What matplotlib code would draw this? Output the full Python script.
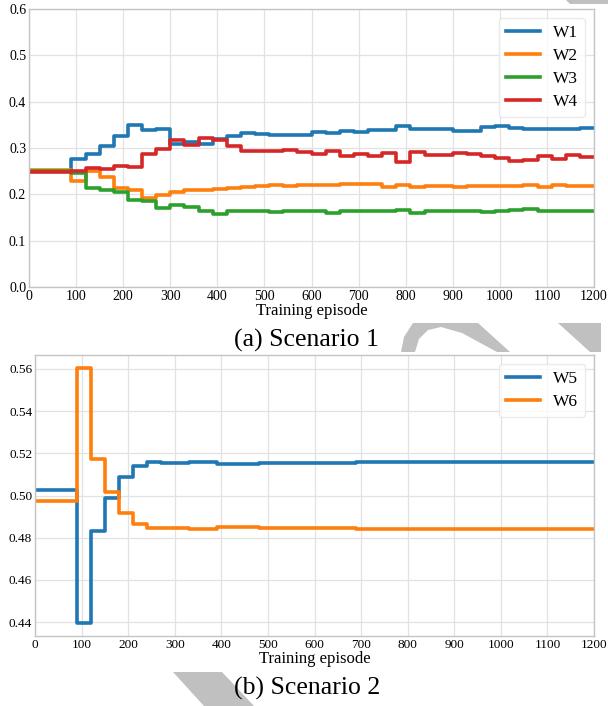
import numpy as np
import matplotlib
matplotlib.use("Agg")
import matplotlib.pyplot as plt
from matplotlib.patches import Polygon

# =========================================================
# data (one value per 30-episode block, 0..1200)
# =========================================================
block = 30
episode_max = 1200

w1 = [0.250, 0.250, 0.250, 0.277, 0.286, 0.304, 0.325, 0.350, 0.338, 0.340,
      0.309, 0.312, 0.309, 0.319, 0.325, 0.332, 0.331, 0.329, 0.328, 0.327,
      0.334, 0.332, 0.336, 0.335, 0.338, 0.338, 0.347, 0.340, 0.341, 0.341,
      0.337, 0.337, 0.345, 0.347, 0.344, 0.342, 0.342, 0.341, 0.340, 0.344]
w2 = [0.252, 0.252, 0.252, 0.228, 0.250, 0.237, 0.214, 0.209, 0.192, 0.199,
      0.204, 0.210, 0.210, 0.212, 0.214, 0.215, 0.217, 0.221, 0.219, 0.221,
      0.220, 0.220, 0.223, 0.222, 0.222, 0.216, 0.221, 0.215, 0.217, 0.217,
      0.216, 0.217, 0.217, 0.217, 0.219, 0.220, 0.216, 0.221, 0.219, 0.218]
w3 = [0.250, 0.250, 0.250, 0.247, 0.213, 0.210, 0.204, 0.188, 0.186, 0.170,
      0.176, 0.173, 0.163, 0.158, 0.163, 0.165, 0.165, 0.162, 0.164, 0.165,
      0.164, 0.160, 0.164, 0.163, 0.165, 0.163, 0.167, 0.160, 0.163, 0.163,
      0.164, 0.165, 0.161, 0.163, 0.167, 0.168, 0.164, 0.165, 0.164, 0.164]
w4 = [0.249, 0.249, 0.249, 0.250, 0.256, 0.255, 0.262, 0.258, 0.288, 0.298,
      0.317, 0.307, 0.322, 0.317, 0.304, 0.293, 0.293, 0.294, 0.296, 0.292,
      0.288, 0.293, 0.282, 0.288, 0.282, 0.289, 0.269, 0.291, 0.284, 0.284,
      0.289, 0.286, 0.282, 0.278, 0.273, 0.275, 0.283, 0.277, 0.285, 0.280]

w5 = [0.5025, 0.5025, 0.5025, 0.4395, 0.4832, 0.4989, 0.5088, 0.5141, 0.5157, 0.5155,
      0.5155, 0.5160, 0.5160, 0.5151, 0.5151, 0.5151, 0.5154, 0.5154, 0.5154, 0.5154,
      0.5154, 0.5154, 0.5154, 0.5157, 0.5157, 0.5157, 0.5157, 0.5157, 0.5157, 0.5157,
      0.5157, 0.5157, 0.5157, 0.5160, 0.5160, 0.5160, 0.5160, 0.5160, 0.5160, 0.5160]
w6 = [0.4975, 0.4975, 0.4975, 0.5605, 0.5173, 0.5016, 0.4918, 0.4863, 0.4848, 0.4844,
      0.4844, 0.4840, 0.4840, 0.4852, 0.4852, 0.4852, 0.4846, 0.4846, 0.4846, 0.4846,
      0.4846, 0.4846, 0.4846, 0.4843, 0.4843, 0.4843, 0.4843, 0.4843, 0.4843, 0.4843,
      0.4843, 0.4843, 0.4843, 0.4840, 0.4840, 0.4840, 0.4840, 0.4840, 0.4840, 0.4840]

scenario1 = {"W1": w1, "W2": w2, "W3": w3, "W4": w4}
scenario2 = {"W5": w5, "W6": w6}

# =========================================================
# style
# =========================================================
plt.rcParams['font.family'] = ['Liberation Serif', 'DejaVu Serif']
plt.rcParams['axes.edgecolor'] = '#c4c4c4'
plt.rcParams['axes.linewidth'] = 1.0
plt.rcParams['grid.color'] = '#e2e2e2'
plt.rcParams['grid.linewidth'] = 0.9
plt.rcParams['xtick.major.size'] = 0
plt.rcParams['ytick.major.size'] = 0
plt.rcParams['xtick.major.pad'] = 2
plt.rcParams['ytick.major.pad'] = 2

W, H = 608, 706
fig = plt.figure(figsize=(W / 100, H / 100), dpi=100)


def frac_box(left, top, right, bottom):
    # pixel box -> figure fraction rect
    return [left / W, 1 - bottom / H, (right - left) / W, (bottom - top) / H]


# grey watermark pieces showing between the two panels
watermark = [
    [(566, 0), (608, 0), (608, 4), (570, 4)],
    [(401, 352), (404, 337), (413, 323), (478, 323), (510, 352), (497, 352),
     (462, 333), (441, 327), (428, 330), (419, 339), (415, 352)],
    [(558, 323), (601, 323), (601, 352), (590, 352)],
    [(173, 672), (222, 672), (254, 706), (204, 706)],
]
for pts in watermark:
    fig.patches.append(Polygon([(x / W, 1 - y / H) for x, y in pts], closed=True,
                               transform=fig.transFigure, facecolor='#c0c0c0',
                               edgecolor='none', zorder=0))


def draw_panel(ax, series, tick_size):
    edges = np.arange(0, episode_max + block, block)
    for name, vals in series.items():
        ax.step(edges, list(vals) + [vals[-1]], where='post', lw=2.6, label=name)
    ax.set_xlim(0, episode_max)
    ax.set_xticks(np.arange(0, episode_max + 1, 100))
    ax.grid(True)
    ax.set_axisbelow(True)
    ax.tick_params(labelsize=tick_size)
    ax.set_xlabel("Training episode", fontsize=12, labelpad=0)
    leg = ax.legend(loc='upper right', fontsize=12.5, handlelength=2.0,
                    labelspacing=0.4, borderaxespad=0.5, handletextpad=0.75,
                    borderpad=0.4, fancybox=True, framealpha=0.8)
    leg.get_frame().set_edgecolor('#e6e6e6')


# Scenario 1
ax1 = fig.add_axes(frac_box(29, 9, 594, 287))
draw_panel(ax1, scenario1, 10)
ax1.set_ylim(0, 0.6)
ax1.set_yticks(np.arange(0, 0.61, 0.1))
ax1.yaxis.set_major_formatter(plt.FormatStrFormatter('%.1f'))
fig.text(306 / W, 1 - 347 / H, "(a) Scenario 1", fontsize=18.5,
         ha='center', va='baseline')

# Scenario 2
ax2 = fig.add_axes(frac_box(35, 355, 594, 636))
draw_panel(ax2, scenario2, 9.5)
ax2.set_yticks(np.arange(0.44, 0.561, 0.02))
ax2.yaxis.set_major_formatter(plt.FormatStrFormatter('%.2f'))
fig.text(307 / W, 1 - 695 / H, "(b) Scenario 2", fontsize=18.5,
         ha='center', va='baseline')

plt.savefig('out.png', dpi=100)
